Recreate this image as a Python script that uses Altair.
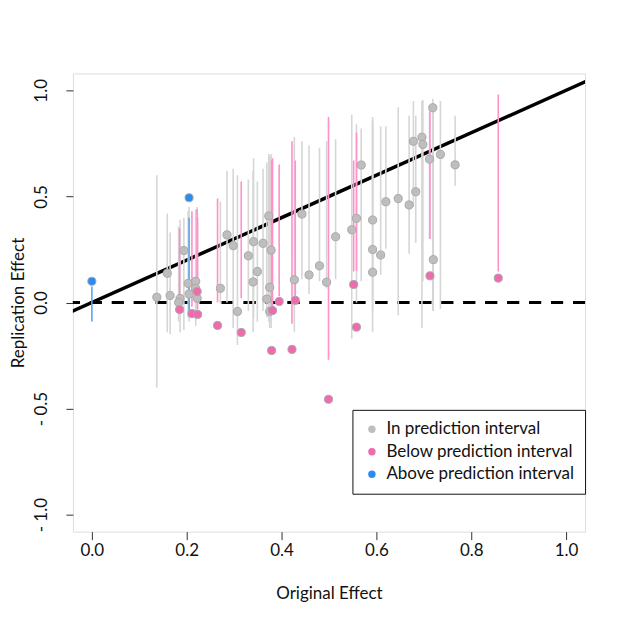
import altair as alt
import pandas as pd

# ---- In prediction interval (gray) ----
in_x = [0.137, 0.159, 0.165, 0.186, 0.183, 0.194, 0.203, 0.205, 0.219, 0.219,
        0.222, 0.271, 0.285, 0.298, 0.307, 0.330, 0.341, 0.349, 0.340, 0.361,
        0.373, 0.378, 0.375, 0.369, 0.375, 0.427, 0.443, 0.458, 0.480, 0.495,
        0.514, 0.548, 0.558, 0.568, 0.592, 0.592, 0.592, 0.609, 0.620, 0.646,
        0.669, 0.683, 0.678, 0.696, 0.698, 0.719, 0.712, 0.735, 0.720, 0.766]
in_y = [0.025, 0.138, 0.033, 0.019, 0.000, 0.245, 0.090, 0.040, 0.100, 0.067,
        0.020, 0.067, 0.319, 0.268, -0.042, 0.220, 0.287, 0.146, 0.097, 0.279,
        0.408, 0.247, 0.072, 0.016, -0.042, 0.107, 0.417, 0.130, 0.173, 0.096,
        0.310, 0.343, 0.397, 0.648, 0.389, 0.250, 0.143, 0.224, 0.475, 0.490,
        0.460, 0.522, 0.760, 0.779, 0.745, 0.918, 0.676, 0.698, 0.202, 0.649]
in_lo = [-0.40, -0.14, -0.15, -0.14, -0.09, -0.13, -0.07, -0.09, -0.11, -0.08,
         -0.05, -0.005, 0.00, -0.12, -0.20, -0.04, -0.075, -0.09, -0.14, -0.04,
         -0.09, -0.12, -0.09, -0.07, -0.12, -0.14, 0.11, 0.04, 0.10, 0.066,
         0.11, -0.17, 0.00, 0.10, 0.02, -0.14, -0.04, 0.13, 0.254, -0.06,
         0.23, 0.28, 0.45, -0.12, 0.10, -0.04, 0.30, -0.03, -0.04, 0.55]
in_hi = [0.60, 0.42, 0.33, 0.39, 0.36, 0.40, 0.43, 0.45, 0.44, 0.43,
         0.45, 0.475, 0.62, 0.63, 0.60, 0.58, 0.68, 0.57, 0.62, 0.63,
         0.70, 0.70, 0.69, 0.66, 0.69, 0.78, 0.76, 0.74, 0.73, 0.76,
         0.77, 0.885, 0.84, 0.82, 0.875, 0.86, 0.85, 0.83, 0.83, 0.92,
         0.88, 0.88, 0.95, 0.95, 0.955, 0.96, 0.93, 0.95, 0.94, 0.88]

# ---- Below prediction interval (pink) ----
below_x = [0.185, 0.211, 0.223, 0.222, 0.265, 0.315, 0.379, 0.381,
           0.395, 0.422, 0.429, 0.499, 0.552, 0.558, 0.713, 0.857]
below_y = [-0.033, -0.052, -0.056, 0.052, -0.108, -0.141, -0.226, -0.038,
           0.005, -0.221, 0.010, -0.456, 0.085, -0.116, 0.126, 0.115]
below_lo = [-0.01, -0.02, -0.03, 0.07, 0.00, 0.02, -0.04, -0.02,
            0.03, -0.10, 0.03, -0.27, 0.146, 0.15, 0.30, 0.146]
below_hi = [0.35, 0.43, 0.40, 0.44, 0.49, 0.57, 0.67, 0.68,
            0.65, 0.76, 0.67, 0.875, 0.67, 0.80, 0.90, 0.98]

# ---- Above prediction interval (blue) ----
above_x = [0.000, 0.205]
above_y = [0.100, 0.494]
above_lo = [-0.09, -0.04]
above_hi = [0.075, 0.40]

statuses = ["In prediction interval", "Below prediction interval", "Above prediction interval"]
point_colors = ["#BEBEBE", "#F06AAE", "#2A8CF0"]
line_colors = ["#D6D6D6", "#FF90C8", "#5AA5F5"]

ref_line = [-0.1, 1.1]
x_ticks = [0.0, 0.2, 0.4, 0.6, 0.8, 1.0]
y_ticks = [-1.0, -0.5, 0.0, 0.5, 1.0]

frames = []
for st, xs, ys, los, his in [
    (statuses[0], in_x, in_y, in_lo, in_hi),
    (statuses[1], below_x, below_y, below_lo, below_hi),
    (statuses[2], above_x, above_y, above_lo, above_hi),
]:
    frames.append(pd.DataFrame({"orig": xs, "rep": ys, "lo": los, "hi": his, "status": st}))
df = pd.concat(frames, ignore_index=True)

ref_df = pd.DataFrame({"a": ref_line, "b": ref_line})

xscale = alt.Scale(domain=[-0.04, 1.04], nice=False, zero=False)
yscale = alt.Scale(domain=[-1.08, 1.08], nice=False, zero=False)

FONT = "Lato"
FS = 17

xaxis = alt.Axis(values=x_ticks, format=".1f", title="Original Effect", grid=False, domain=False,
                 tickSize=8, tickColor="#333333", labelFontSize=FS, titleFontSize=FS,
                 labelFont=FONT, titleFont=FONT, titleFontWeight="normal", labelColor="#111111",
                 titleColor="#111111", labelPadding=3, titlePadding=27)
yaxis = alt.Axis(values=y_ticks, title="Replication Effect", grid=False, domain=False,
                 tickSize=7, tickColor="#333333", labelFontSize=FS, titleFontSize=FS,
                 labelFont=FONT, titleFont=FONT, titleFontWeight="normal", labelColor="#111111",
                 titleColor="#111111", labelAngle=270, labelAlign="center", labelBaseline="bottom",
                 labelPadding=15, titlePadding=5,
                 labelExpr="datum.value < 0 ? '- ' + format(-datum.value, '.1f') : format(datum.value, '.1f')")

diag = alt.Chart(ref_df).mark_line(color="black", strokeWidth=3.5, clip=True).encode(
    x=alt.X("a:Q", scale=xscale, axis=xaxis),
    y=alt.Y("b:Q", scale=yscale, axis=yaxis),
)

zero = alt.Chart(ref_df).mark_rule(color="black", strokeWidth=3, strokeDash=[12, 10]).encode(
    y=alt.datum(0, type="quantitative", scale=yscale),
)

intervals = alt.Chart(df).mark_rule(strokeWidth=1.6, clip=True).encode(
    x=alt.X("orig:Q", scale=xscale),
    y=alt.Y("lo:Q", scale=yscale),
    y2="hi:Q",
    color=alt.Color("status:N", scale=alt.Scale(domain=statuses, range=line_colors), legend=None),
)

points = alt.Chart(df).mark_point(filled=True, size=66, opacity=1, stroke="#A8A8A8",
                                   strokeWidth=1, shape="circle").encode(
    x=alt.X("orig:Q", scale=xscale),
    y=alt.Y("rep:Q", scale=yscale),
    color=alt.Color("status:N", scale=alt.Scale(domain=statuses, range=point_colors),
                    legend=alt.Legend(title=None, orient="none", legendX=280, legendY=337,
                                      strokeColor="#111111", fillColor="white", padding=11,
                                      labelFontSize=FS, labelFont=FONT, labelColor="#111111",
                                      symbolSize=55, symbolType="circle", symbolStrokeWidth=0,
                                      symbolOpacity=1, rowPadding=4.5, labelOffset=6,
                                      labelLimit=300, cornerRadius=0)),
)

chart = alt.layer(diag, zero, intervals, points).resolve_scale(color="independent").properties(
    width=513, height=459,
    autosize=alt.AutoSizeParams(type="none"),
    padding={"left": 65, "top": 65, "right": 30, "bottom": 90},
).configure_view(stroke="#333333", strokeWidth=1.2).configure(background="white")

chart.save("out.html", embed_options={"renderer": "svg", "actions": False})
